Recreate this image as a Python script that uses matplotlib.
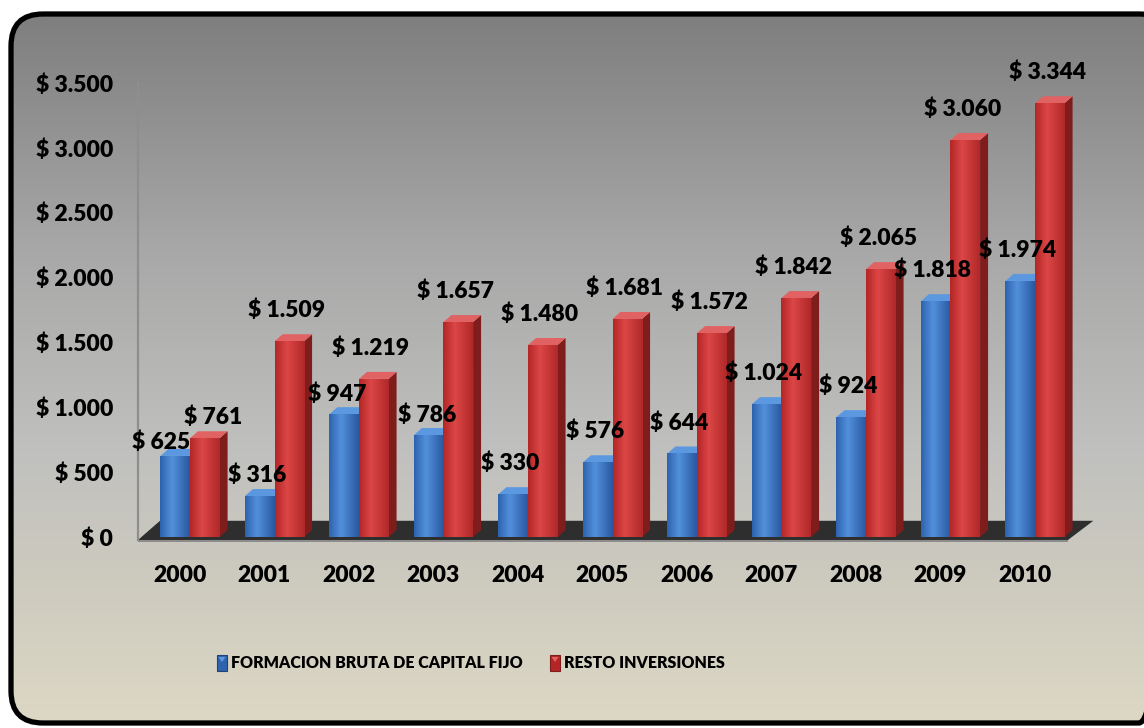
import matplotlib
matplotlib.use("Agg")
import matplotlib.pyplot as plt
import numpy as np
from matplotlib.patches import FancyBboxPatch, Rectangle, Polygon
from matplotlib.colors import to_rgb

# ---------------- data ----------------
years = ["2000", "2001", "2002", "2003", "2004", "2005", "2006", "2007", "2008", "2009", "2010"]
fbcf = [625, 316, 947, 786, 330, 576, 644, 1024, 924, 1818, 1974]
resto = [761, 1509, 1219, 1657, 1480, 1681, 1572, 1842, 2065, 3060, 3344]
series_names = ["FORMACION BRUTA DE CAPITAL FIJO", "RESTO INVERSIONES"]
yticks = [0, 500, 1000, 1500, 2000, 2500, 3000, 3500]

# label nudges (points) mimicking the reference label placement
label_nudge = {(0, 0): (-10, 10), (1, 0): (6, 15), (0, 1): (-2, 15),
               (0, 2): (-5, 14), (0, 3): (-1, 14)}

W, H = 1144, 728
plt.rcParams['font.family'] = ['Lato', 'DejaVu Sans']
fig = plt.figure(figsize=(W / 100, H / 100), dpi=100)
fig.patch.set_facecolor("white")
FW = "heavy"

# ---------------- background ----------------
bg = fig.add_axes([0, 0, 1, 1])
bg.set_xlim(0, W)
bg.set_ylim(H, 0)
bg.axis("off")
stops_y = [14, 250, 450, 560, 720]
stops_c = [(126, 126, 126), (168, 168, 168), (192, 192, 190), (203, 201, 190), (221, 216, 197)]
yy = np.arange(H)
grad = np.zeros((H, 1, 3))
for k in range(3):
    grad[:, 0, k] = np.interp(yy, stops_y, [c[k] for c in stops_c]) / 255
frame = FancyBboxPatch((11, 14), 1160, 709, boxstyle="round,pad=0,rounding_size=32",
                       facecolor="none", edgecolor="black", linewidth=3.8, zorder=3)
bg.add_patch(frame)
im = bg.imshow(grad, extent=(0, W, H, 0), aspect="auto", zorder=1)
im.set_clip_path(frame)

# ---------------- main axes ----------------
px_per_unit = 454 / 3500
x_left_px, x_right_px, base_px, top_px = 138, 1100, 537, 55
grp0_px, grp_step = 190, 84.5
ax = fig.add_axes([x_left_px / W, (H - base_px) / H,
                   (x_right_px - x_left_px) / W, (base_px - top_px) / H])
ax.set_facecolor("none")
ax.set_xlim((x_left_px - grp0_px) / grp_step, (x_right_px - grp0_px) / grp_step)
ax.set_ylim(0, (base_px - top_px) / px_per_unit)

xs = np.arange(len(years))
bw = 0.35
dx = 8 / grp_step
dy = 7 / px_per_unit

# floor
fl_front = -23
fl_back = 125
fl_dx = 22 / grp_step
floor_x0 = ax.get_xlim()[0]
floor_x1 = (1068 - grp0_px) / grp_step
ax.add_patch(Polygon([(floor_x0, fl_front), (floor_x1, fl_front),
                      (floor_x1 + fl_dx * 1.15, fl_back), (floor_x0 + fl_dx, fl_back)],
                     closed=True, facecolor="#2e2e2e", edgecolor="none", zorder=2, clip_on=False))
ax.add_patch(Rectangle((floor_x0, fl_front - 18), floor_x1 - floor_x0, 18,
                       facecolor="#8c8c8c", edgecolor="none", zorder=2, clip_on=False))

styles = [
    dict(left="#2e63ae", peak="#5290dc", right="#2a58a0", side="#1f4278", top="#5c98e0"),
    dict(left="#b42626", peak="#dc4646", right="#b02828", side="#7f1c1c", top="#e06262"),
]

def draw_bar(x0, h, st, z):
    ax.add_patch(Polygon([(x0 + bw, 0), (x0 + bw + dx, dy), (x0 + bw + dx, h + dy), (x0 + bw, h)],
                         closed=True, facecolor=st["side"], edgecolor="none", zorder=z))
    ax.add_patch(Polygon([(x0, h), (x0 + bw, h), (x0 + bw + dx, h + dy), (x0 + dx, h + dy)],
                         closed=True, facecolor=st["top"], edgecolor="none", zorder=z))
    rect = Rectangle((x0, 0), bw, h, facecolor="none", edgecolor="none", zorder=z)
    ax.add_patch(rect)
    t = np.linspace(0, 1, 64)
    cl, cp, cr = np.array(to_rgb(st["left"])), np.array(to_rgb(st["peak"])), np.array(to_rgb(st["right"]))
    g = np.zeros((1, 64, 3))
    for i, v in enumerate(t):
        if v < 0.4:
            g[0, i] = cl + (cp - cl) * (v / 0.4)
        else:
            g[0, i] = cp + (cr - cp) * ((v - 0.4) / 0.6)
    img = ax.imshow(g, extent=(x0, x0 + bw, 0, h), aspect="auto", zorder=z, interpolation="bilinear")
    img.set_clip_path(rect)

for i in range(len(years)):
    draw_bar(xs[i] - bw, fbcf[i], styles[0], 3 + i * 0.01)
    draw_bar(xs[i], resto[i], styles[1], 3.005 + i * 0.01)

def fmt(v):
    return "$ " + f"{v:,}".replace(",", ".")

label_fs = 16.5
for s, vals in enumerate([fbcf, resto]):
    for i, v in enumerate(vals):
        cx = xs[i] - bw / 2 if s == 0 else xs[i] + bw / 2
        off = label_nudge.get((s, i), (-2, 22))
        ax.annotate(fmt(v), (cx, v), xytext=off, textcoords="offset points",
                    ha="center", va="center", fontsize=label_fs, fontweight=FW,
                    color="black", zorder=10, annotation_clip=False)

ax.set_yticks(yticks)
ax.set_yticklabels([fmt(v) for v in yticks], fontsize=label_fs, fontweight=FW)
ax.set_xticks(xs - 0.12)
ax.set_xticklabels(years, fontsize=label_fs, fontweight=FW)
ax.tick_params(axis="y", length=0, pad=18)
ax.tick_params(axis="x", length=0, pad=20)
for sp in ["top", "right", "bottom"]:
    ax.spines[sp].set_visible(False)
ax.spines["left"].set_color("#8e8e8e")
ax.spines["left"].set_linewidth(1.6)
ax.spines["left"].set_bounds(-25, 3510)
ax.spines["left"].set_zorder(2.5)

# ---------------- legend ----------------
leg_items = [(217, series_names[0], styles[0]), (550, series_names[1], styles[1])]
for xpx, name, st in leg_items:
    bg.add_patch(Rectangle((xpx, 655), 10, 16, facecolor=st["left"], edgecolor=st["side"],
                           linewidth=0.8, zorder=5))
    bg.add_patch(Polygon([(xpx + 1.5, 657), (xpx + 8.5, 657), (xpx + 5, 662)], closed=True,
                         facecolor=st["top"], edgecolor="none", zorder=6))
    bg.text(xpx + 14, 663, name, ha="left", va="center", fontsize=11.5, fontweight=FW,
            color="black", zorder=6)

fig.savefig("out.png", dpi=100)
